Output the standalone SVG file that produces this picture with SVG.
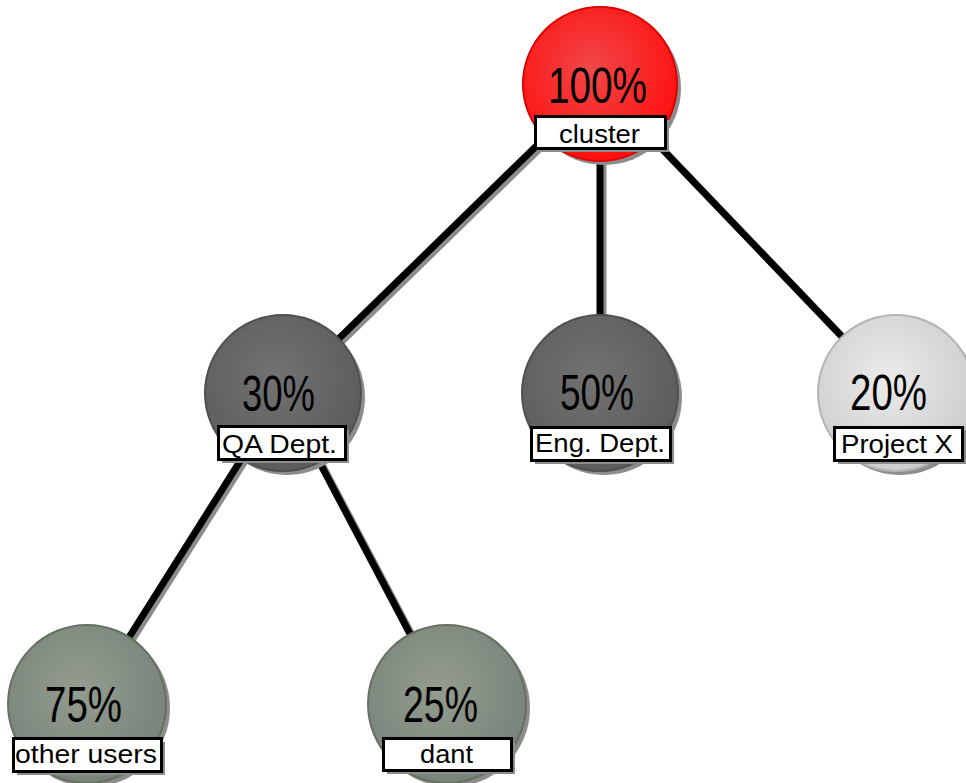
<svg xmlns="http://www.w3.org/2000/svg" width="966" height="783" viewBox="0 0 966 783">
<style>
.shadow{fill:#8c8c8c}
.lsh{stroke:#8c8c8c;stroke-width:7;stroke-linecap:butt}
.ln{stroke:#000;stroke-width:7;stroke-linecap:butt}
.box{fill:#fff;stroke:#000;stroke-width:3}
.bsh{fill:#8c8c8c}
.pct{font-family:"Liberation Sans",Arial,sans-serif;font-size:50px;fill:#000;text-anchor:middle}
.lbl{font-family:"Liberation Sans",Arial,sans-serif;font-size:25px;fill:#000;text-anchor:middle}
</style>
<defs>
<radialGradient id="gRed" cx="45%" cy="40%" r="60%"><stop offset="0" stop-color="#f04848"/><stop offset="1" stop-color="#ff1010"/></radialGradient>
<radialGradient id="gDark" cx="45%" cy="40%" r="60%"><stop offset="0" stop-color="#727272"/><stop offset="1" stop-color="#5c5c5c"/></radialGradient>
<radialGradient id="gLight" cx="45%" cy="40%" r="60%"><stop offset="0" stop-color="#ebebeb"/><stop offset="1" stop-color="#cdcdcd"/></radialGradient>
<radialGradient id="gGreen" cx="45%" cy="40%" r="60%"><stop offset="0" stop-color="#939c8e"/><stop offset="1" stop-color="#78837a"/></radialGradient>
</defs>
<rect width="966" height="783" fill="#fff"/>
<g id="connectors">
<line class="lsh" x1="603" y1="87" x2="286" y2="396"/>
<line class="lsh" x1="603" y1="87" x2="603" y2="396"/>
<line class="lsh" x1="603" y1="87" x2="899" y2="396"/>
<line class="lsh" x1="286" y1="396" x2="90" y2="707"/>
<line class="lsh" x1="286" y1="396" x2="450" y2="707"/>
<line class="ln" x1="600" y1="84" x2="283" y2="393"/>
<line class="ln" x1="600" y1="84" x2="600" y2="393"/>
<line class="ln" x1="600" y1="84" x2="896" y2="393"/>
<line class="ln" x1="283" y1="393" x2="87" y2="704"/>
<line class="ln" x1="283" y1="393" x2="447" y2="704"/>
</g>
<g id="node-cluster">
<circle class="shadow" cx="604" cy="88" r="77"/>
<circle cx="600" cy="84" r="77" fill="url(#gRed)" stroke="#e00000" stroke-width="2"/>
<text class="pct" x="597.5" y="103" textLength="99" lengthAdjust="spacingAndGlyphs">100%</text>
<rect class="bsh" x="539" y="120" width="130" height="32"/>
<rect class="box" x="535.5" y="116.5" width="130" height="32"/>
<text class="lbl" x="599.5" y="143" textLength="81" lengthAdjust="spacingAndGlyphs">cluster</text>
</g>
<g id="node-qa">
<circle class="shadow" cx="287" cy="397" r="78"/>
<circle cx="283" cy="393" r="78" fill="url(#gDark)" stroke="#505050" stroke-width="2"/>
<text class="pct" x="278.5" y="411" textLength="73" lengthAdjust="spacingAndGlyphs">30%</text>
<rect class="bsh" x="222" y="430" width="127" height="33"/>
<rect class="box" x="218.5" y="426.5" width="127" height="33"/>
<text class="lbl" x="279.5" y="453" textLength="115" lengthAdjust="spacingAndGlyphs">QA Dept.</text>
</g>
<g id="node-eng">
<circle class="shadow" cx="604" cy="397" r="78"/>
<circle cx="600" cy="393" r="78" fill="url(#gDark)" stroke="#505050" stroke-width="2"/>
<text class="pct" x="597" y="410" textLength="74" lengthAdjust="spacingAndGlyphs">50%</text>
<rect class="bsh" x="535" y="431" width="139" height="33"/>
<rect class="box" x="531.5" y="427.5" width="139" height="33"/>
<text class="lbl" x="600" y="452" textLength="130" lengthAdjust="spacingAndGlyphs">Eng. Dept.</text>
</g>
<g id="node-projectx">
<circle class="shadow" cx="900" cy="397" r="78"/>
<circle cx="896" cy="393" r="78" fill="url(#gLight)" stroke="#b4b4b4" stroke-width="2"/>
<text class="pct" x="888.5" y="410" textLength="77" lengthAdjust="spacingAndGlyphs">20%</text>
<rect class="bsh" x="838" y="431" width="128" height="33"/>
<rect class="box" x="834.5" y="427.5" width="128" height="33"/>
<text class="lbl" x="897" y="453" textLength="112" lengthAdjust="spacingAndGlyphs">Project X</text>
</g>
<g id="node-other">
<circle class="shadow" cx="91" cy="708" r="79"/>
<circle cx="87" cy="704" r="79" fill="url(#gGreen)" stroke="#66705f" stroke-width="2"/>
<text class="pct" x="83.5" y="722" textLength="77" lengthAdjust="spacingAndGlyphs">75%</text>
<rect class="bsh" x="17" y="742" width="148" height="33"/>
<rect class="box" x="13.5" y="738.5" width="148" height="33"/>
<text class="lbl" x="86" y="763" textLength="142" lengthAdjust="spacingAndGlyphs">other users</text>
</g>
<g id="node-dant">
<circle class="shadow" cx="451" cy="708" r="79"/>
<circle cx="447" cy="704" r="79" fill="url(#gGreen)" stroke="#66705f" stroke-width="2"/>
<text class="pct" x="440.5" y="722" textLength="75" lengthAdjust="spacingAndGlyphs">25%</text>
<rect class="bsh" x="387" y="742" width="128" height="32"/>
<rect class="box" x="383.5" y="738.5" width="128" height="32"/>
<text class="lbl" x="446.5" y="763" textLength="53" lengthAdjust="spacingAndGlyphs">dant</text>
</g>
</svg>
